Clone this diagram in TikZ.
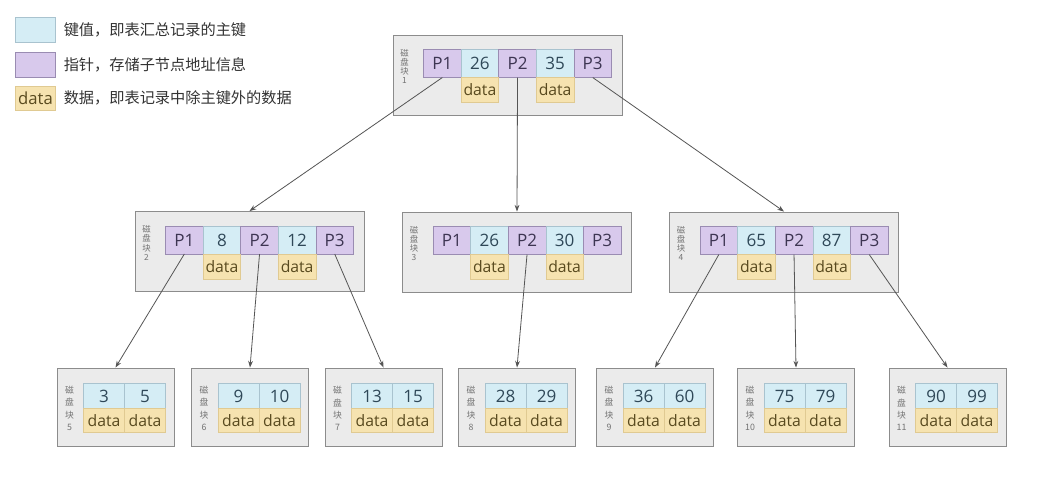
\documentclass[tikz,border=0pt]{standalone}
\usepackage{fontspec}
\setmainfont{Open Sans}
\newfontfamily\cjk{Noto Sans CJK SC}
\usepackage{tikz}
\usetikzlibrary{arrows.meta,positioning,calc}
\definecolor{ckey}{HTML}{D5EDF5}
\definecolor{ckeyd}{HTML}{A9C3CF}
\definecolor{ckeyt}{HTML}{2F4858}
\definecolor{cptr}{HTML}{D8C9EC}
\definecolor{cptrd}{HTML}{9A8CB2}
\definecolor{cptrt}{HTML}{3D3552}
\definecolor{cdat}{HTML}{F6E3B0}
\definecolor{cdatd}{HTML}{E0CA92}
\definecolor{cdatt}{HTML}{594A1F}
\definecolor{cblk}{HTML}{EBEBEB}
\definecolor{cblkd}{HTML}{8C8C8C}
\definecolor{cline}{HTML}{555555}
\tikzset{
  cell/.style={draw, inner sep=0pt, outer sep=0pt, minimum width=28.2pt, font=\fontsize{12.8}{14}\selectfont},
  keyc/.style={cell, fill=ckey, draw=ckeyd, text=ckeyt, minimum height=21pt},
  ptrc/.style={cell, fill=cptr, draw=cptrd, text=cptrt, minimum height=21pt},
  datc/.style={cell, fill=cdat, draw=cdatd, text=cdatt, minimum height=18.75pt, font=\fontsize{11.8}{13}\selectfont},
  lk/.style={minimum width=30.75pt, minimum height=18.75pt},
  ld/.style={minimum width=30.75pt, minimum height=18pt},
  blk/.style={draw=cblkd, fill=cblk, line width=0.7pt, inner sep=0pt},
  tag/.style={align=center, inner sep=0pt, text=black!55, font=\cjk\fontsize{6.3}{6.9}\selectfont},
  leaftag/.style={tag, font=\cjk\fontsize{6.6}{9.3}\selectfont},
  legend/.style={inner sep=0pt, text=black!80, font=\cjk\fontsize{11.4}{13}\selectfont},
  link/.style={draw=cline, line width=0.6pt, -{Stealth[length=5pt,width=3.6pt]}},
}
% inner block: name, x, y, number, first key, second key
\newcommand{\innerblk}[6]{%
  \node[blk, minimum width=171.75pt, minimum height=60pt] (#1) at (#2,#3) {};
  \node[ptrc, anchor=north west] (#1p1) at ($(#1.north west)+(31,15)$) {P1};
  \node[keyc, right=0pt of #1p1] (#1k1) {#5};
  \node[ptrc, right=0pt of #1k1] (#1p2) {P2};
  \node[keyc, right=0pt of #1p2] (#1k2) {#6};
  \node[ptrc, right=0pt of #1k2] (#1p3) {P3};
  \node[datc, below=0pt of #1k1] (#1d1) {data};
  \node[datc, below=0pt of #1k2] (#1d2) {data};
  \node[tag] (#1t) at ($(#1.north west)+(12,32)$) {磁\\盘\\块\\#4};
}
% leaf block: name, x, y, number, first key, second key
\newcommand{\leafblk}[6]{%
  \node[blk, minimum width=87.75pt, minimum height=58.5pt] (#1) at (#2,#3) {};
  \node[keyc, lk, anchor=north west] (#1k1) at ($(#1.north west)+(27,16)$) {#5};
  \node[keyc, lk, right=0pt of #1k1] (#1k2) {#6};
  \node[datc, ld, below=0pt of #1k1] (#1d1) {data};
  \node[datc, ld, below=0pt of #1k2] (#1d2) {data};
  \node[leaftag] (#1t) at ($(#1.north west)+(13,41)$) {磁\\盘\\块\\#4};
}

\begin{document}
\begin{tikzpicture}[x=0.75pt,y=-0.75pt]
\useasboundingbox[fill=white] (0,0) rectangle (1049,477);
% legend
\node[keyc, minimum width=30pt, minimum height=18.75pt] (lgk) at (35.5,29.5) {};
\node[ptrc, minimum width=30pt, minimum height=18.75pt] (lgp) at (35.5,64.5) {};
\node[datc, minimum width=30pt, minimum height=18pt, font=\fontsize{12.5}{14}\selectfont] (lgd) at (35.5,98) {data};
\node[legend, right=6pt of lgk] (lgkt) {键值，即表汇总记录的主键};
\node[legend, right=6pt of lgp] (lgpt) {指针，存储子节点地址信息};
\node[legend, right=6pt of lgd] (lgdt) {数据，即表记录中除主键外的数据};
% blocks
\innerblk{b1}{507.5}{75}{1}{26}{35}
\innerblk{b2}{249.5}{251.5}{2}{8}{12}
\innerblk{b3}{517}{252}{3}{26}{30}
\innerblk{b4}{784}{252}{4}{65}{87}
\leafblk{b5}{115.5}{407}{5}{3}{5}
\leafblk{b6}{250}{407}{6}{9}{10}
\leafblk{b7}{383.5}{407}{7}{13}{15}
\leafblk{b8}{517}{407}{8}{28}{29}
\leafblk{b9}{655}{407}{9}{36}{60}
\leafblk{b10}{796}{407}{10}{75}{79}
\leafblk{b11}{947.5}{407}{11}{90}{99}
% pointers
\draw[link] (b1p1.south) -- (b2.north);
\draw[link] (b1p2.south) -- (b3.north);
\draw[link] (b1p3.south) -- (b4.north);
\draw[link] (b2p1.south) -- (b5.north);
\draw[link] (b2p2.south) -- (b6.north);
\draw[link] (b2p3.south) -- (b7.north);
\draw[link] (b3p2.south) -- (b8.north);
\draw[link] (b4p1.south) -- (b9.north);
\draw[link] (b4p2.south) -- (b10.north);
\draw[link] (b4p3.south) -- (b11.north);
\end{tikzpicture}
\end{document}
